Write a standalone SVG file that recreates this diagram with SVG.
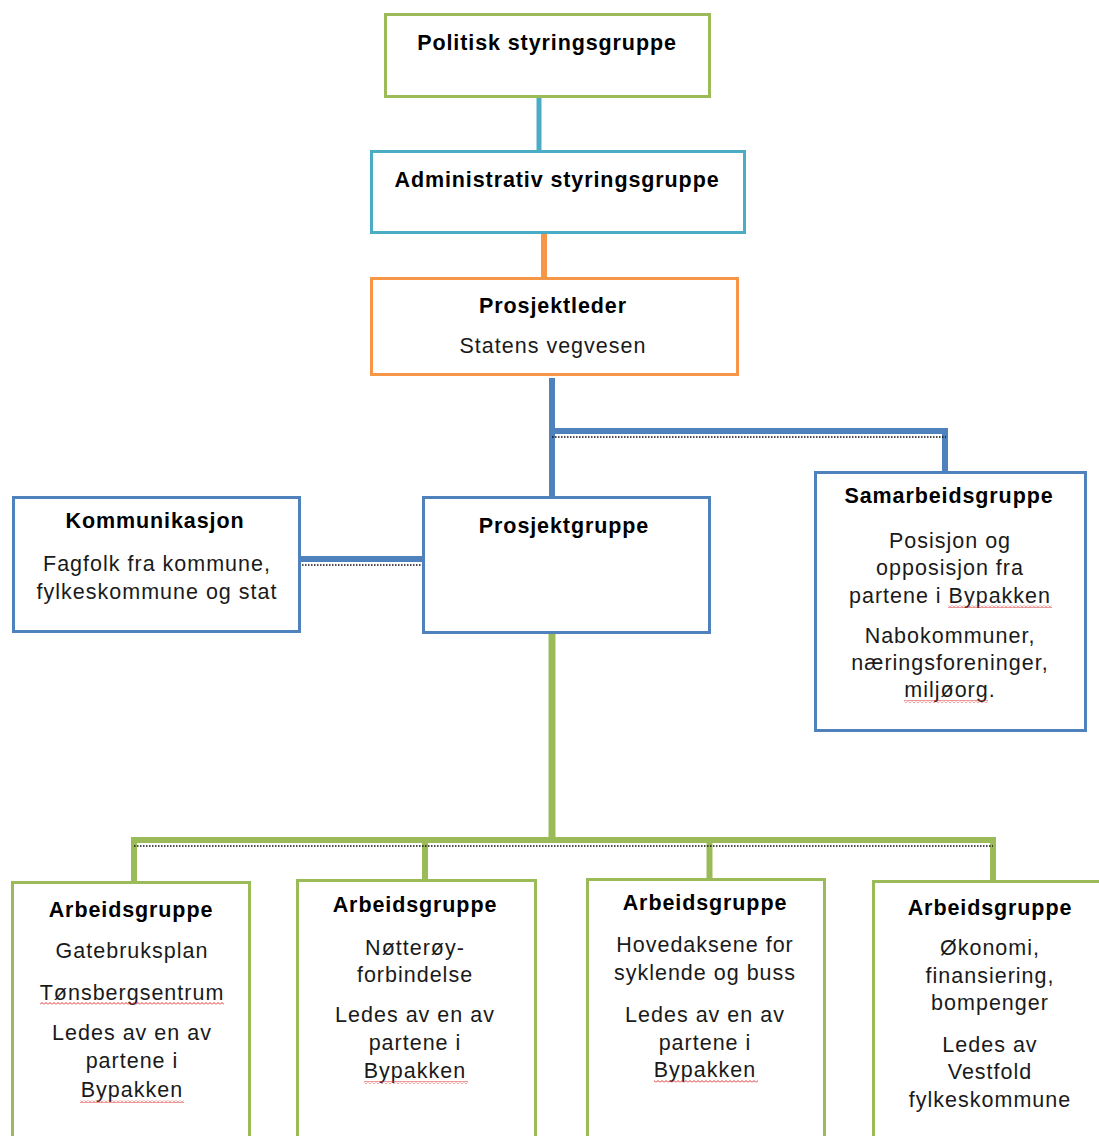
<svg xmlns="http://www.w3.org/2000/svg" width="1099" height="1136" viewBox="0 0 1099 1136">
<style>
.box{fill:#fff;stroke-width:3}
.g{stroke:#9BBB59}.t{stroke:#4BACC6}.o{stroke:#F79646}.b{stroke:#4F81BD}
.hd{font-family:"Liberation Sans",Arial,sans-serif;font-size:21.5px;font-weight:bold;fill:#000;text-anchor:middle;letter-spacing:0.9px}
.tx{font-family:"Liberation Sans",Arial,sans-serif;font-size:21.5px;fill:#1a1a1a;text-anchor:middle;letter-spacing:1px}
.ln{fill:none;stroke-linecap:square}
.dot{fill:none;stroke:#111;stroke-width:1.3;stroke-dasharray:1.5 1.5}
.sq{fill:url(#wave)}
</style>
<defs>
<pattern id="wave" width="4" height="3" patternUnits="userSpaceOnUse">
<path d="M0 2.5 L2 0.5 L4 2.5" fill="none" stroke="#e03030" stroke-width="1"/>
</pattern>
</defs>
<rect width="1099" height="1136" fill="#fff"/>
<g id="connectors">
<line class="ln" x1="539" y1="97" x2="539" y2="151" stroke="#4BACC6" stroke-width="5"/>
<line class="ln" x1="544" y1="234" x2="544" y2="277" stroke="#F79646" stroke-width="6"/>
<line x1="552" y1="378" x2="552" y2="496" stroke="#4F81BD" stroke-width="6"/>
<polyline class="ln" points="552,431 945,431 945,471" stroke="#4F81BD" stroke-width="6"/>
<line class="dot" x1="552" y1="437" x2="946" y2="437"/>
<line x1="301" y1="559" x2="423" y2="559" stroke="#4F81BD" stroke-width="6"/>
<line class="dot" x1="302" y1="565" x2="422" y2="565"/>
<line x1="552" y1="634" x2="552" y2="840" stroke="#9BBB59" stroke-width="7"/>
<polyline class="ln" points="134,881 134,840 993,840 993,879" stroke="#9BBB59" stroke-width="6"/>
<line x1="425" y1="840" x2="425" y2="879" stroke="#9BBB59" stroke-width="6"/>
<line x1="709.5" y1="840" x2="709.5" y2="878" stroke="#9BBB59" stroke-width="6"/>
<line class="dot" x1="134" y1="846" x2="993" y2="846"/>
</g>
<g id="politisk">
<rect class="box g" x="385.5" y="14.5" width="324" height="82"/>
<text class="hd" x="547" y="50">Politisk styringsgruppe</text>
</g>
<g id="administrativ">
<rect class="box t" x="371.5" y="151.5" width="373" height="81"/>
<text class="hd" x="557" y="187">Administrativ styringsgruppe</text>
</g>
<g id="prosjektleder">
<rect class="box o" x="371.5" y="278.5" width="366" height="96"/>
<text class="hd" x="553" y="313">Prosjektleder</text>
<text class="tx" x="553" y="353">Statens vegvesen</text>
</g>
<g id="kommunikasjon">
<rect class="box b" x="13.5" y="497.5" width="286" height="134"/>
<text class="hd" x="155" y="528">Kommunikasjon</text>
<text class="tx" x="157" y="571">Fagfolk fra kommune,</text>
<text class="tx" x="157" y="599">fylkeskommune og stat</text>
</g>
<g id="prosjektgruppe">
<rect class="box b" x="423.5" y="497.5" width="286" height="135"/>
<text class="hd" x="564" y="533">Prosjektgruppe</text>
</g>
<g id="samarbeidsgruppe">
<rect class="box b" x="815.5" y="472.5" width="270" height="258"/>
<text class="hd" x="949" y="503">Samarbeidsgruppe</text>
<text class="tx" x="950" y="548">Posisjon og</text>
<text class="tx" x="950" y="575">opposisjon fra</text>
<text class="tx" x="950" y="603">partene i Bypakken</text>
<text class="tx" x="950" y="643">Nabokommuner,</text>
<text class="tx" x="950" y="670">næringsforeninger,</text>
<text class="tx" x="950" y="697">miljøorg.</text>
<rect class="sq" x="948" y="605" width="104" height="3"/>
<rect class="sq" x="904" y="700" width="84" height="3"/>
</g>
<g id="arbeidsgruppe1">
<rect class="box g" x="12.5" y="882.5" width="237" height="270"/>
<text class="hd" x="131" y="917">Arbeidsgruppe</text>
<text class="tx" x="132" y="958">Gatebruksplan</text>
<text class="tx" x="132" y="1000">Tønsbergsentrum</text>
<text class="tx" x="132" y="1040">Ledes av en av</text>
<text class="tx" x="132" y="1068">partene i</text>
<text class="tx" x="132" y="1097">Bypakken</text>
<rect class="sq" x="40" y="1002" width="184" height="3"/>
<rect class="sq" x="80" y="1100" width="104" height="3"/>
</g>
<g id="arbeidsgruppe2">
<rect class="box g" x="297.5" y="880.5" width="238" height="272"/>
<text class="hd" x="415" y="912">Arbeidsgruppe</text>
<text class="tx" x="415" y="955">Nøtterøy-</text>
<text class="tx" x="415" y="982">forbindelse</text>
<text class="tx" x="415" y="1022">Ledes av en av</text>
<text class="tx" x="415" y="1050">partene i</text>
<text class="tx" x="415" y="1078">Bypakken</text>
<rect class="sq" x="364" y="1081" width="104" height="3"/>
</g>
<g id="arbeidsgruppe3">
<rect class="box g" x="587.5" y="879.5" width="237" height="273"/>
<text class="hd" x="705" y="910">Arbeidsgruppe</text>
<text class="tx" x="705" y="952">Hovedaksene for</text>
<text class="tx" x="705" y="980">syklende og buss</text>
<text class="tx" x="705" y="1022">Ledes av en av</text>
<text class="tx" x="705" y="1050">partene i</text>
<text class="tx" x="705" y="1077">Bypakken</text>
<rect class="sq" x="654" y="1080" width="104" height="3"/>
</g>
<g id="arbeidsgruppe4">
<rect class="box g" x="873.5" y="881.5" width="240" height="271"/>
<text class="hd" x="990" y="915">Arbeidsgruppe</text>
<text class="tx" x="990" y="955">Økonomi,</text>
<text class="tx" x="990" y="983">finansiering,</text>
<text class="tx" x="990" y="1010">bompenger</text>
<text class="tx" x="990" y="1052">Ledes av</text>
<text class="tx" x="990" y="1079">Vestfold</text>
<text class="tx" x="990" y="1107">fylkeskommune</text>
</g>
</svg>
